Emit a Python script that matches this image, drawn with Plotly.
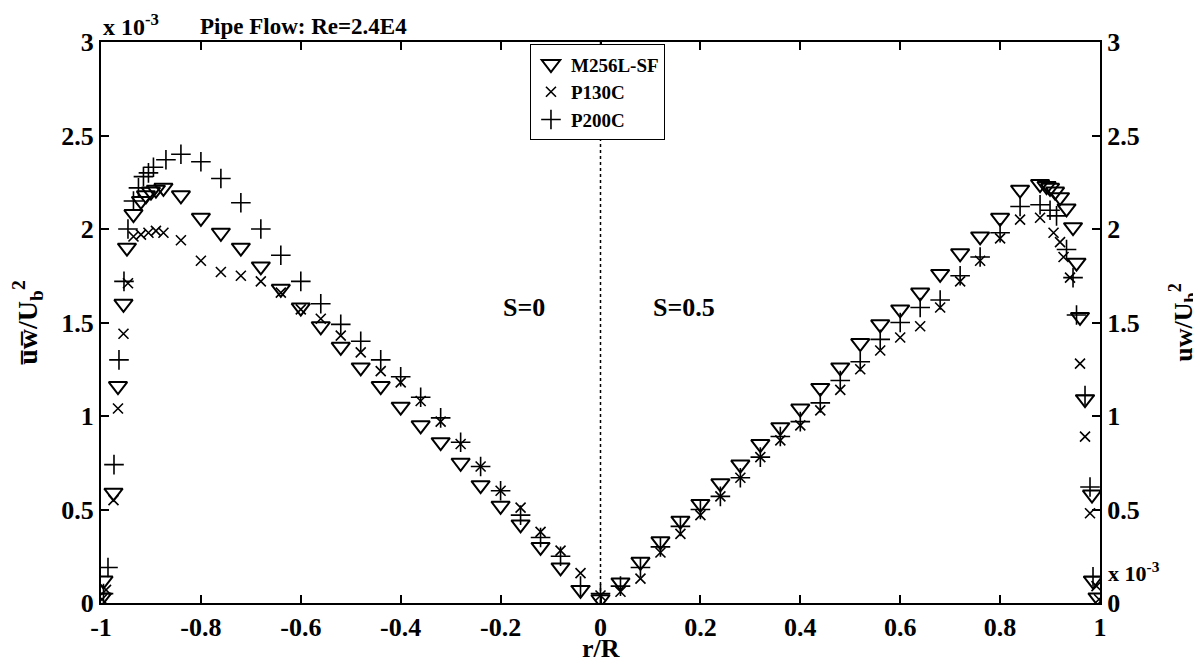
import plotly.graph_objects as go

# ---- data (values in units of 1e-3) ----
# S=0 side (r/R < 0)
m256_x_left = [-0.998, -0.995, -0.975, -0.966, -0.955, -0.948, -0.935, -0.92, -0.91, -0.90, -0.89, -0.875,
               -0.84, -0.80, -0.76, -0.72, -0.68, -0.64, -0.60, -0.56, -0.52, -0.48, -0.44, -0.40,
               -0.36, -0.32, -0.28, -0.24, -0.20, -0.16, -0.12, -0.08, -0.04, 0.0]
m256_y_left = [0.03, 0.12, 0.59, 1.16, 1.60, 1.90, 2.08, 2.15, 2.18, 2.20, 2.21, 2.22,
               2.18, 2.06, 1.98, 1.90, 1.80, 1.68, 1.58, 1.48, 1.37, 1.26, 1.16, 1.05,
               0.95, 0.86, 0.75, 0.63, 0.52, 0.42, 0.30, 0.19, 0.07, 0.02]

p130_x_left = [-0.998, -0.99, -0.975, -0.966, -0.955, -0.946, -0.935, -0.92, -0.905, -0.89, -0.875,
               -0.84, -0.80, -0.76, -0.72, -0.68, -0.64, -0.60, -0.56, -0.52, -0.48, -0.44, -0.40,
               -0.36, -0.32, -0.28, -0.24, -0.20, -0.16, -0.12, -0.08, -0.04, 0.0]
p130_y_left = [0.02, 0.07, 0.55, 1.04, 1.44, 1.71, 1.96, 1.97, 1.98, 1.99, 1.98,
               1.94, 1.83, 1.77, 1.75, 1.72, 1.66, 1.57, 1.52, 1.43, 1.34, 1.24, 1.18,
               1.08, 0.97, 0.85, 0.73, 0.60, 0.51, 0.38, 0.28, 0.16, 0.04]

p200_x_left = [-0.995, -0.986, -0.974, -0.964, -0.954, -0.946, -0.935, -0.925, -0.915, -0.905, -0.895,
               -0.87, -0.84, -0.80, -0.76, -0.72, -0.68, -0.64, -0.60, -0.56, -0.52, -0.48, -0.44,
               -0.40, -0.36, -0.32, -0.28, -0.24, -0.20, -0.16, -0.12, -0.08, -0.04, 0.0]
p200_y_left = [0.05, 0.19, 0.74, 1.30, 1.72, 2.00, 2.15, 2.22, 2.28, 2.30, 2.33,
               2.37, 2.40, 2.36, 2.27, 2.14, 2.00, 1.86, 1.72, 1.60, 1.49, 1.40, 1.30,
               1.21, 1.10, 0.99, 0.86, 0.73, 0.60, 0.47, 0.35, 0.25, 0.09, 0.05]

# S=0.5 side (r/R > 0)
m256_x_right = [0.04, 0.08, 0.12, 0.16, 0.20, 0.24, 0.28, 0.32, 0.36, 0.40, 0.44, 0.48, 0.52,
                0.56, 0.60, 0.64, 0.68, 0.72, 0.76, 0.80, 0.84, 0.88, 0.893, 0.90, 0.91, 0.92,
                0.933, 0.946, 0.953, 0.96, 0.97, 0.984, 0.986, 0.995]
m256_y_right = [0.11, 0.22, 0.33, 0.44, 0.53, 0.64, 0.74, 0.85, 0.94, 1.04, 1.15, 1.26, 1.39,
                1.49, 1.57, 1.66, 1.76, 1.87, 1.96, 2.06, 2.21, 2.24, 2.23, 2.22, 2.20, 2.17,
                2.11, 2.01, 1.82, 1.53, 1.09, 0.58, 0.12, 0.03]

p130_x_right = [0.04, 0.08, 0.12, 0.16, 0.20, 0.24, 0.28, 0.32, 0.36, 0.40, 0.44, 0.48, 0.52,
                0.56, 0.60, 0.64, 0.68, 0.72, 0.76, 0.80, 0.84, 0.88, 0.907, 0.92, 0.927, 0.94,
                0.96, 0.97, 0.98, 0.993, 0.998]
p130_y_right = [0.06, 0.13, 0.27, 0.37, 0.47, 0.57, 0.67, 0.78, 0.87, 0.95, 1.03, 1.14, 1.25,
                1.35, 1.42, 1.48, 1.58, 1.72, 1.83, 1.95, 2.05, 2.06, 1.98, 1.93, 1.85, 1.74,
                1.28, 0.89, 0.48, 0.09, 0.02]

p200_x_right = [0.04, 0.08, 0.12, 0.16, 0.20, 0.24, 0.28, 0.32, 0.36, 0.40, 0.44, 0.48, 0.52,
                0.56, 0.60, 0.64, 0.68, 0.72, 0.76, 0.80, 0.84, 0.88, 0.90, 0.913, 0.933, 0.946,
                0.953, 0.97, 0.98, 0.986]
p200_y_right = [0.09, 0.19, 0.30, 0.41, 0.50, 0.57, 0.67, 0.78, 0.89, 0.97, 1.07, 1.19, 1.29,
                1.41, 1.50, 1.58, 1.62, 1.75, 1.85, 1.98, 2.12, 2.13, 2.10, 2.07, 1.89, 1.74,
                1.54, 1.11, 0.62, 0.14]

x_ticks = [-1, -0.8, -0.6, -0.4, -0.2, 0, 0.2, 0.4, 0.6, 0.8, 1]
x_tick_text = ["-1", "-0.8", "-0.6", "-0.4", "-0.2", "0", "0.2", "0.4", "0.6", "0.8", "1"]
y_ticks = [0, 0.5, 1, 1.5, 2, 2.5, 3]
y_tick_text = ["0", "0.5", "1", "1.5", "2", "2.5", "3"]

FONT = "Liberation Serif"

def bfont(size):
    return dict(family=FONT, size=size, color="black", weight="bold")

fig = go.Figure()

fig.add_trace(go.Scatter(
    x=m256_x_left + m256_x_right, y=m256_y_left + m256_y_right, mode="markers", name="M256L-SF",
    marker=dict(symbol="triangle-down-open", size=16, color="black", line=dict(width=2, color="black"))))
fig.add_trace(go.Scatter(
    x=p130_x_left + p130_x_right, y=p130_y_left + p130_y_right, mode="markers", name="P130C",
    marker=dict(symbol="x-thin-open", size=10, color="black", line=dict(width=1.6, color="black"))))
fig.add_trace(go.Scatter(
    x=p200_x_left + p200_x_right, y=p200_y_left + p200_y_right, mode="markers", name="P200C",
    marker=dict(symbol="cross-thin-open", size=14, color="black", line=dict(width=1.6, color="black"))))
# empty trace to activate the right-hand axis
fig.add_trace(go.Scatter(x=[], y=[], yaxis="y2", showlegend=False, hoverinfo="skip"))

fig.add_shape(type="line", xref="x", yref="paper", x0=0, x1=0, y0=0, y1=1,
              line=dict(color="black", width=1.5, dash="dot"), layer="below")

axis_common = dict(showgrid=False, zeroline=False, showline=True, linecolor="black", linewidth=2,
                   ticks="inside", ticklen=8, tickwidth=1.5, tickcolor="black",
                   tickfont=bfont(26), automargin=False)

# page body has an 8px margin, so the figure is sized/margined to compensate
fig.update_layout(
    width=1193, height=656,
    margin=dict(l=93, r=101, t=34, b=61),
    paper_bgcolor="white", plot_bgcolor="white",
    font=dict(family=FONT, color="black"),
    xaxis=dict(range=[-1, 1], tickvals=x_ticks, ticktext=x_tick_text, mirror="ticks",
               **axis_common),
    yaxis=dict(range=[0, 3], tickvals=y_ticks, ticktext=y_tick_text,
               title=dict(text="u\u0305w\u0305/U<sub>b</sub><sup>2</sup>", font=bfont(28), standoff=16),
               **axis_common),
    yaxis2=dict(range=[0, 3], tickvals=y_ticks, ticktext=y_tick_text, overlaying="y", side="right",
                title=dict(text="uw/U<sub>b</sub><sup>2</sup>", font=bfont(26), standoff=38),
                **axis_common),
    legend=dict(x=0.4294, xanchor="left", y=0.996, yanchor="top", bgcolor="white",
                bordercolor="black", borderwidth=1, font=bfont(19),
                tracegroupgap=0, itemwidth=30),
    showlegend=True,
)

fig.add_annotation(text="r/R", xref="paper", yref="paper", x=0.5, y=0.0,
                   xanchor="center", yanchor="middle", showarrow=False, yshift=-45,
                   font=bfont(26))
fig.add_annotation(text="x 10<sup>-3</sup>", xref="paper", yref="paper", x=0.0, y=1.0,
                   xanchor="left", yanchor="bottom", showarrow=False, yshift=0,
                   font=bfont(24))
fig.add_annotation(text="Pipe Flow: Re=2.4E4", xref="paper", yref="paper", x=0.097, y=1.0,
                   xanchor="left", yanchor="bottom", showarrow=False, yshift=1,
                   font=bfont(23))
fig.add_annotation(text="x 10<sup>-3</sup>", xref="paper", yref="paper", x=1.0, y=0.055,
                   xanchor="left", yanchor="middle", showarrow=False, xshift=6,
                   font=bfont(22))
fig.add_annotation(text="S=0", x=-0.154, y=1.58, xref="x", yref="y", showarrow=False,
                   font=bfont(26))
fig.add_annotation(text="S=0.5", x=0.167, y=1.58, xref="x", yref="y", showarrow=False,
                   font=bfont(26))

fig.write_html("out.html")
